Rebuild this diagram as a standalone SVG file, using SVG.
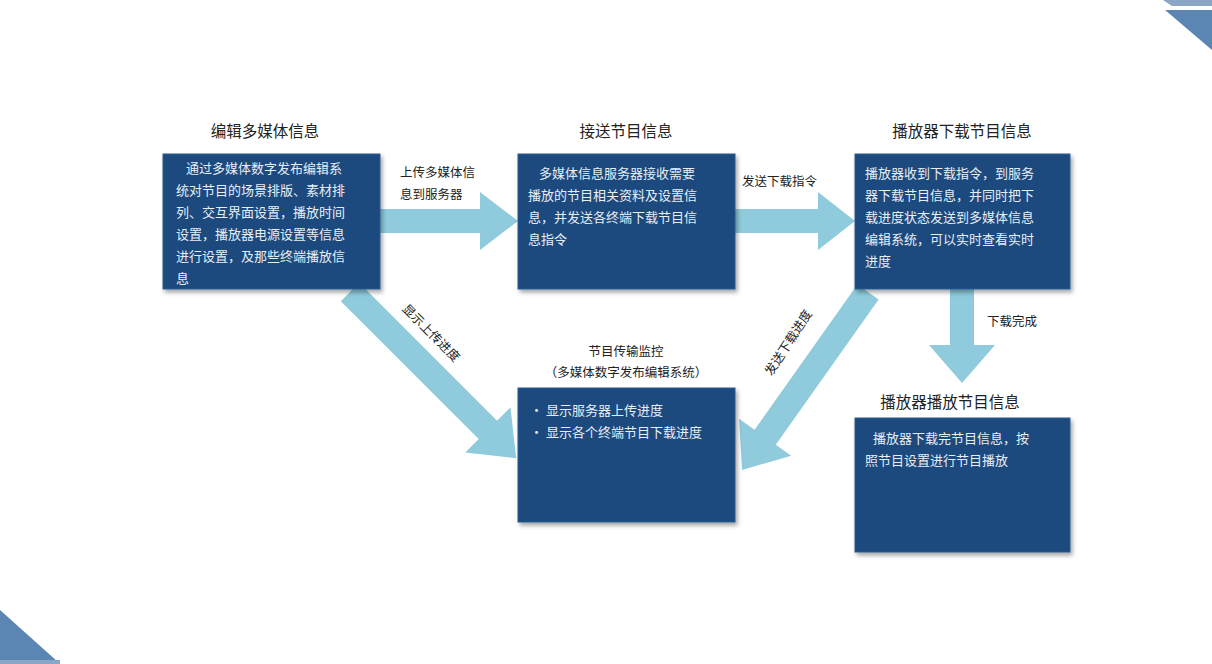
<svg xmlns="http://www.w3.org/2000/svg" width="1212" height="664" viewBox="0 0 1212 664">
<style>
text{font-family:"Noto Sans CJK SC","Liberation Sans",sans-serif;}
.box{fill:#1d4a7e;stroke:#2a5a90;stroke-width:1;filter:url(#sh);}
.bt{fill:#e8eef6;font-size:13px;}
.ti{fill:#222;font-size:15.5px;text-anchor:middle;}
.lb{fill:#222;font-size:12.5px;}
.ar{fill:#8fcbdc;}
</style>
<defs>
<filter id="sh" x="-5%" y="-5%" width="115%" height="115%"><feDropShadow dx="2" dy="3" stdDeviation="2" flood-color="#000" flood-opacity="0.35"/></filter>
<polygon id="a" points="0,-12 1,-12 1,-12 0,0"/>
</defs>
<rect width="1212" height="664" fill="#fff"/>
<polygon points="1163,0 1212,0 1212,6 1172,6" fill="#8aa6c4"/>
<polygon points="1165,10 1212,10 1212,50" fill="#5b86b4"/>
<polygon points="0,610 0,662 58,662" fill="#5b86b4"/>
<rect x="0" y="660" width="60" height="4" fill="#8aa6c4"/>
<g id="connectors">
<polygon class="ar" points="380,209 480,209 480,192 518,221 480,250 480,233 380,233"/>
<polygon class="ar" points="735,209 818,209 818,192 855,221 818,250 818,233 735,233"/>
<polygon class="ar" points="950,289 974,289 974,345 995,345 962,383 929,345 950,345"/>
<polygon class="ar" transform="translate(350,292) rotate(45)" points="0,-13 195,-13 195,-32 235,0 195,32 195,13 0,13"/>
<polygon class="ar" transform="translate(868,292) rotate(125.3)" points="0,-13 178,-13 178,-32 218,0 178,32 178,13 0,13"/>
<text class="lb" x="400" y="177">上传多媒体信</text>
<text class="lb" x="400" y="199">息到服务器</text>
<text class="lb" x="742" y="186">发送下载指令</text>
<text class="lb" x="987" y="326">下载完成</text>
<text class="lb" transform="translate(428,336) rotate(45)" text-anchor="middle">显示上传进度</text>
<text class="lb" transform="translate(792,345) rotate(-57)" text-anchor="middle">发送下载进度</text>
</g>
<g id="n1">
<text class="ti" x="265" y="137">编辑多媒体信息</text>
<rect class="box" x="163" y="154" width="217" height="135"/>
<text class="bt" x="186" y="173">通过多媒体数字发布编辑系</text>
<text class="bt" x="176" y="195">统对节目的场景排版、素材排</text>
<text class="bt" x="176" y="217">列、交互界面设置，播放时间</text>
<text class="bt" x="176" y="239">设置，播放器电源设置等信息</text>
<text class="bt" x="176" y="261">进行设置，及那些终端播放信</text>
<text class="bt" x="176" y="283">息</text>
</g>
<g id="n2">
<text class="ti" x="626" y="137">接送节目信息</text>
<rect class="box" x="518" y="154" width="217" height="135"/>
<text class="bt" x="539" y="178">多媒体信息服务器接收需要</text>
<text class="bt" x="528" y="200">播放的节目相关资料及设置信</text>
<text class="bt" x="528" y="222">息，并发送各终端下载节目信</text>
<text class="bt" x="528" y="244">息指令</text>
</g>
<g id="n3">
<text class="ti" x="962" y="137">播放器下载节目信息</text>
<rect class="box" x="855" y="154" width="215" height="135"/>
<text class="bt" x="865" y="178">播放器收到下载指令，到服务</text>
<text class="bt" x="865" y="200">器下载节目信息，并同时把下</text>
<text class="bt" x="865" y="222">载进度状态发送到多媒体信息</text>
<text class="bt" x="865" y="244">编辑系统，可以实时查看实时</text>
<text class="bt" x="865" y="266">进度</text>
</g>
<g id="n4">
<text class="lb" x="626" y="356" text-anchor="middle">节目传输监控</text>
<text class="lb" x="626" y="377" text-anchor="middle">（多媒体数字发布编辑系统）</text>
<rect class="box" x="518" y="388" width="217" height="134"/>
<text class="bt" x="530" y="415">• 显示服务器上传进度</text>
<text class="bt" x="530" y="437">• 显示各个终端节目下载进度</text>
</g>
<g id="n5">
<text class="ti" x="950" y="408">播放器播放节目信息</text>
<rect class="box" x="855" y="418" width="215" height="134"/>
<text class="bt" x="873" y="443">播放器下载完节目信息，按</text>
<text class="bt" x="865" y="465">照节目设置进行节目播放</text>
</g>
</svg>
